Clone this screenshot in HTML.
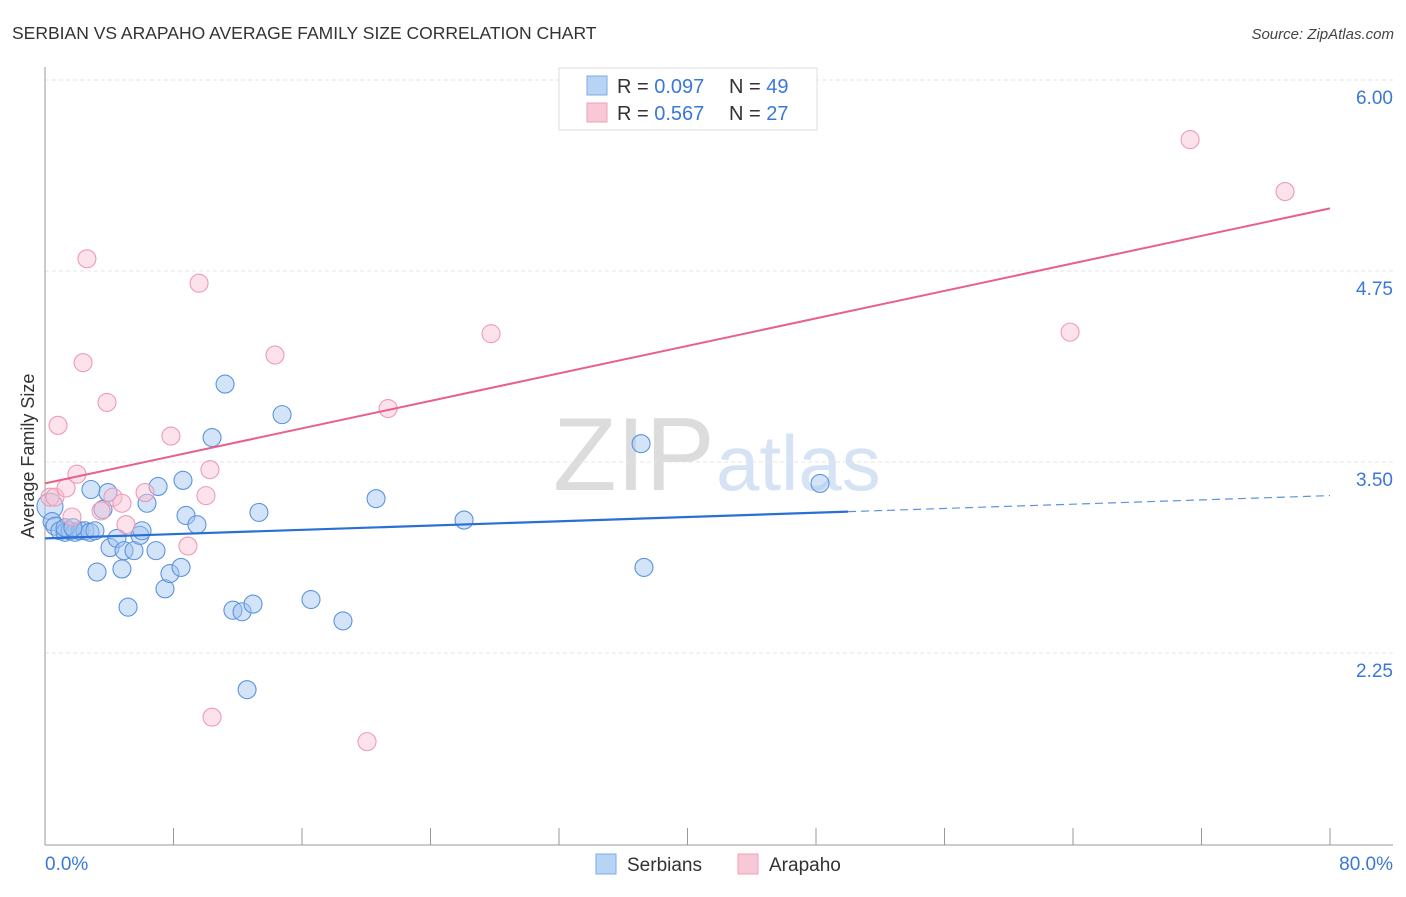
<!DOCTYPE html>
<html><head><meta charset="utf-8"><style>
html,body{margin:0;padding:0;background:#fff;}
body{width:1406px;height:892px;overflow:hidden;font-family:"Liberation Sans",sans-serif;}
svg text{font-family:"Liberation Sans",sans-serif;}
</style></head><body>
<svg id="chart" width="1406" height="892" xmlns="http://www.w3.org/2000/svg">
<text x="12" y="39" font-size="17.5" fill="#333">SERBIAN VS ARAPAHO AVERAGE FAMILY SIZE CORRELATION CHART</text>
<text x="1394" y="39" font-size="15" fill="#444" text-anchor="end" font-style="italic">Source: ZipAtlas.com</text>
<g>
<text x="553" y="490" font-size="104" fill="#dcdcdc" font-family="Liberation Serif, serif">ZIP</text>
<text x="716" y="490" font-size="78" fill="#d6e3f5">atlas</text>
</g>
<g id="grid"></g>
<g id="axes"></g>
<g id="marks"></g>
<text transform="translate(34,456) rotate(-90)" font-size="18" fill="#333" text-anchor="middle">Average Family Size</text>
<g>
<rect x="559" y="68" width="258" height="62" fill="#fff" stroke="#ddd"/>
<rect x="587" y="76" width="20" height="19" fill="#b8d4f5" stroke="#7eaae6"/>
<rect x="587" y="103" width="20" height="19" fill="#f9c8d6" stroke="#f0a0b8"/>
<text x="617" y="93" font-size="20" fill="#333">R = <tspan fill="#3a78d8">0.097</tspan></text>
<text x="729" y="93" font-size="20" fill="#333">N = <tspan fill="#3a78d8">49</tspan></text>
<text x="617" y="120" font-size="20" fill="#333">R =  <tspan fill="#3a78d8">0.567</tspan></text>
<text x="729" y="120" font-size="20" fill="#333">N =  <tspan fill="#3a78d8">27</tspan></text>
</g>
<g>
<rect x="596" y="854" width="20" height="20" fill="#b8d4f5" stroke="#7eaae6"/>
<text x="627" y="871" font-size="19" fill="#333">Serbians</text>
<rect x="738" y="854" width="20" height="20" fill="#f9c8d6" stroke="#f0a0b8"/>
<text x="769" y="871" font-size="19" fill="#333">Arapaho</text>
</g>
</svg>
<script>
const yTicks=[2.25,3.5,4.75,6.0];
const yTickLabels=["2.25","3.50","4.75","6.00"];
const xTickLabels=["0.0%","80.0%"];
const serbX=[0.31,0.44,0.62,0.93,1.25,1.56,1.87,2.18,2.49,2.80,3.11,1.25,2.86,3.61,3.92,4.05,4.48,4.92,4.79,5.54,5.91,6.04,6.35,6.91,7.04,7.47,7.78,8.47,8.59,8.78,9.46,10.40,11.21,11.70,12.27,12.95,12.58,13.32,14.76,16.56,18.55,20.61,26.09,37.11,37.29,48.25,3.24,5.17,1.74];
const serbY=[3.21,3.11,3.08,3.05,3.04,3.05,3.04,3.05,3.05,3.04,3.05,3.07,3.32,3.19,3.30,2.94,3.00,2.92,2.80,2.92,3.02,3.05,3.23,2.92,3.34,2.67,2.77,2.81,3.38,3.15,3.09,3.66,4.01,2.53,2.52,2.57,2.01,3.17,3.81,2.60,2.46,3.26,3.12,3.62,2.81,3.36,2.78,2.55,3.07];
const arapX=[0.31,0.62,1.31,1.68,1.99,2.37,2.61,3.49,3.86,4.23,4.79,5.04,0.81,6.23,7.84,8.90,9.59,10.02,10.27,10.40,14.32,20.05,21.36,27.77,63.82,71.29,77.20];
const arapY=[3.27,3.27,3.33,3.14,3.42,4.15,4.83,3.18,3.89,3.27,3.23,3.09,3.74,3.30,3.67,2.95,4.67,3.28,3.45,1.83,4.20,1.67,3.85,4.34,4.35,5.61,5.27];
const serbTrend=[3.00,3.28];
const arapTrend=[3.36,5.16];
const X0=45,X1=1330,Y6=80,PPU=152.8;
const sx=v=>X0+(v/80)*(X1-X0);
const sy=v=>Y6+(6-v)*PPU;
const NS="http://www.w3.org/2000/svg";
function mk(tag,attrs,parent){const e=document.createElementNS(NS,tag);for(const k in attrs)e.setAttribute(k,attrs[k]);parent.appendChild(e);return e;}
const grid=document.getElementById('grid'),axes=document.getElementById('axes'),marks=document.getElementById('marks');
yTicks.forEach((t,i)=>{
 const l=mk('line',{x1:45,x2:1393,y1:sy(t),y2:sy(t),stroke:'#e4e4e4','stroke-dasharray':'4,3'},grid);
 
 
 const tx=mk('text',{x:1393,y:sy(t)+24,'font-size':19,fill:'#3a78d8','text-anchor':'end'},axes);
 tx.textContent=yTickLabels[i];
 
 
});
const ya=mk('line',{x1:45,x2:45,y1:67,y2:845,stroke:'#999'},axes);


const xa=mk('line',{x1:45,x2:1393,y1:845,y2:845,stroke:'#999'},axes);


for(let i=0;i<=10;i++){
 const t=mk('line',{x1:sx(i*8),x2:sx(i*8),y1:828,y2:845,stroke:'#999'},axes);
 
 
}
[[0,'start',45],[1,'end',1393]].forEach(([i,a,x])=>{
 const tx=mk('text',{x:x,y:870,'font-size':19,fill:'#3a78d8','text-anchor':a},axes);
 tx.textContent=xTickLabels[i];
 
 
});
serbX.forEach((v,i)=>{
 const c=mk('circle',{cx:sx(v),cy:sy(serbY[i]),r:i===0?13:9,fill:'rgba(160,196,240,0.45)',stroke:'#5b93df','stroke-width':1.1},marks);
 
 
});
arapX.forEach((v,i)=>{
 const c=mk('circle',{cx:sx(v),cy:sy(arapY[i]),r:9,fill:'rgba(248,190,208,0.45)',stroke:'#ef9ab5','stroke-width':1.1},marks);
 
 
});
const ty=(tr,x)=>tr[0]+(tr[1]-tr[0])*x/80;
const at=mk('line',{x1:sx(0),y1:sy(ty(arapTrend,0)),x2:sx(80),y2:sy(ty(arapTrend,80)),stroke:'#e8608a','stroke-width':2},marks);


const bt=mk('line',{x1:sx(0),y1:sy(ty(serbTrend,0)),x2:sx(50),y2:sy(ty(serbTrend,50)),stroke:'#2a6fd6','stroke-width':2.2},marks);


const bd=mk('line',{x1:sx(50),y1:sy(ty(serbTrend,50)),x2:sx(80),y2:sy(ty(serbTrend,80)),stroke:'#5b93df','stroke-width':1.2,'stroke-dasharray':'8,5'},marks);


</script>
</body></html>
